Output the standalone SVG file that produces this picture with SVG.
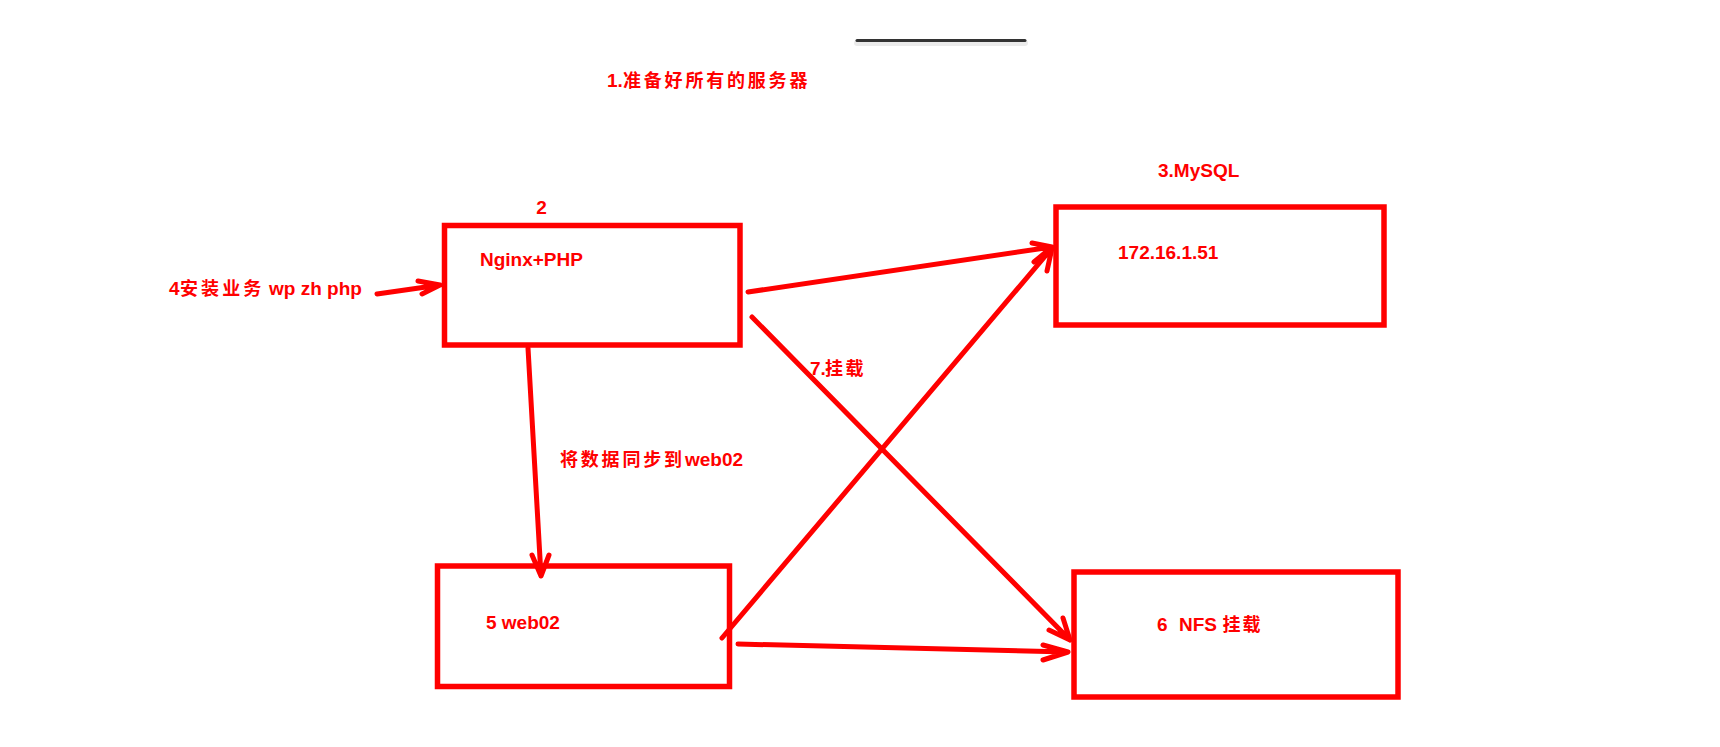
<svg xmlns="http://www.w3.org/2000/svg" width="1720" height="747" viewBox="0 0 1720 747">
<style>
.box{fill:none;stroke:#ff0000;stroke-width:5.5}
.t{font-family:"Liberation Sans","Noto Sans CJK SC",sans-serif;font-weight:bold;fill:#ff0000;font-size:19px}
.c{font-family:"Noto Sans CJK SC","Liberation Sans",sans-serif;font-weight:bold;font-size:18px}
.ln{fill:none;stroke:#ff0000;stroke-width:5;stroke-linecap:round;stroke-linejoin:round}
</style>
<rect width="1720" height="747" fill="#ffffff"/>
<g id="topbar">
<line x1="857" y1="43" x2="1025" y2="43" stroke="#000" stroke-opacity="0.08" stroke-width="6" stroke-linecap="round"/>
<line x1="857" y1="40.5" x2="1025" y2="40.5" stroke="#333333" stroke-width="3" stroke-linecap="round"/>
</g>
<g id="title">
<text class="t" x="607" y="87">1.<tspan class="c" x="623" letter-spacing="2.8">准备好所有的服务器</tspan></text>
</g>
<g id="label-install">
<text class="t" x="169" y="295">4<tspan class="c" x="180" letter-spacing="3.1">安装业务</tspan><tspan x="269">wp zh php</tspan></text>
</g>
<g id="node-nginx">
<rect class="box" x="444.5" y="225.5" width="295.5" height="119.5"/>
<text class="t" x="541.5" y="214" text-anchor="middle">2</text>
<text class="t" x="480" y="266">Nginx+PHP</text>
</g>
<g id="node-mysql">
<rect class="box" x="1056" y="207" width="328" height="118"/>
<text class="t" x="1158" y="177">3.MySQL</text>
<text class="t" x="1118" y="259">172.16.1.51</text>
</g>
<g id="node-web02">
<rect class="box" x="437.5" y="566" width="292" height="120.5"/>
<text class="t" x="486" y="629">5 web02</text>
</g>
<g id="node-nfs">
<rect class="box" x="1074" y="572" width="324" height="125"/>
<text class="t" x="1157" y="631" font-size="18">6<tspan x="1179">NFS</tspan><tspan class="c" x="1222.5" letter-spacing="2">挂载</tspan></text>
</g>
<g id="connectors">
<path class="ln" stroke-width="6" d="M377 294 L440 285 M418 281 L440 285 L422 294"/>
<path class="ln" d="M748 292 L1052 247 M1032 243 L1052 247 L1034 262"/>
<path class="ln" d="M528 348 L541 576 M532 555 L541 576 L549 555"/>
<path class="ln" d="M752 317 L1070 640 M1063 618 L1070 640 L1049 630"/>
<path class="ln" d="M722 638 L1052 248 L1047 271"/>
<path class="ln" d="M738 644 L1068 652 M1043 645 L1068 652 L1043 660"/>
</g>
<g id="edge-labels">
<text class="t" x="560" y="466"><tspan class="c" letter-spacing="2.8">将数据同步到</tspan><tspan x="685">web02</tspan></text>
<text class="t" x="810" y="375" font-size="18">7.<tspan class="c" x="825" letter-spacing="2.5">挂载</tspan></text>
</g>
</svg>
